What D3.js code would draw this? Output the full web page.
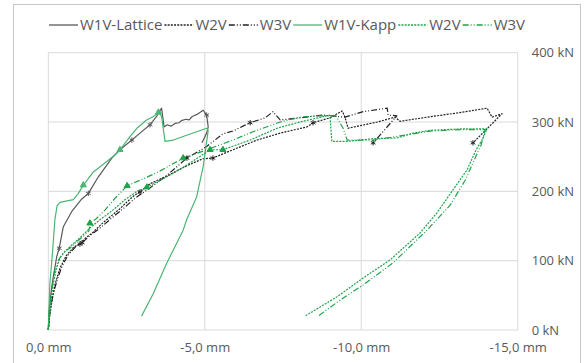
<!DOCTYPE html>
<html><head><meta charset="utf-8">
<script src="https://cdn.jsdelivr.net/npm/d3@7"></script>
<style>
body{margin:0;background:#fff;}
svg{display:block;font-family:"Open Sans",sans-serif;}
</style></head>
<body><svg id="c" width="585" height="363"></svg>
<script>
// ---- data (x: displacement in mm, y: force in kN) ----
const xTicks = [0, -5, -10, -15];
const yTicks = [0, 100, 200, 300, 400];
const seriesNames = ["W1V-Lattice", "W2V", "W3V", "W1V-Kapp", "W2V", "W3V"];

const w1vLattice = [[0,0],[-0.03,29],[-0.10,58],[-0.16,77],[-0.27,106],[-0.35,118],[-0.48,149],[-0.75,171],[-1.07,189],[-1.28,197],[-1.60,221],[-2.03,248],[-2.29,260],[-2.67,274],[-2.93,284],[-3.25,296],[-3.46,308],[-3.62,320],[-3.70,293],[-3.80,296],[-3.92,294],[-4.05,298],[-4.18,299],[-4.25,302],[-4.40,304],[-4.50,303],[-4.60,308],[-4.75,311],[-4.95,317],[-5.06,310],[-5.11,293],[-5.06,284],[-4.91,270]];
const w2vLattice = [[0,0],[-0.05,22],[-0.12,43],[-0.21,65],[-0.37,89],[-0.57,107],[-0.82,120],[-1.01,124],[-1.20,133],[-1.43,141],[-1.68,152],[-1.97,163],[-2.29,175],[-2.52,185],[-2.77,195],[-2.93,199],[-3.25,211],[-3.79,222],[-4.43,237],[-4.94,247],[-5.26,248],[-5.90,260],[-6.67,274],[-7.41,284],[-8.27,293],[-8.46,299],[-9.00,306],[-9.39,316],[-9.48,307],[-9.58,291],[-10.51,300],[-11.08,307],[-11.24,301],[-12.10,307],[-13.06,313],[-14.02,320],[-14.18,307],[-14.50,312],[-13.57,270]];
const w3vLattice = [[0,0],[-0.05,26],[-0.15,51],[-0.28,72],[-0.44,92],[-0.63,108],[-0.89,121],[-1.08,126],[-1.33,136],[-1.65,147],[-2.04,162],[-2.42,176],[-2.77,190],[-3.25,205],[-3.76,222],[-4.43,248],[-5.07,265],[-5.58,283],[-5.90,287],[-6.45,299],[-6.93,306],[-7.18,315],[-7.41,303],[-8.04,306],[-8.78,310],[-9.48,307],[-10.06,315],[-10.83,320],[-10.86,310],[-11.14,309],[-10.38,270]];
const w1vKapp = [[0,0],[-0.05,67],[-0.14,115],[-0.21,159],[-0.28,179],[-0.37,184],[-0.80,188],[-0.96,197],[-1.12,209],[-1.44,228],[-1.87,243],[-2.19,255],[-2.29,260],[-2.61,279],[-2.83,291],[-3.14,303],[-3.36,308],[-3.52,314],[-3.62,308],[-3.73,272],[-4.00,274],[-4.42,281],[-4.74,286],[-5.06,291],[-5.11,288],[-4.95,236],[-4.74,192],[-4.42,159],[-4.31,144],[-3.78,96],[-3.36,53],[-2.98,20]];
const w2vKapp = [[0,0],[-0.04,22],[-0.09,43],[-0.15,65],[-0.25,87],[-0.37,104],[-0.57,115],[-0.76,123],[-1.01,133],[-1.33,147],[-1.65,159],[-2.04,172],[-2.45,188],[-2.80,199],[-3.15,206],[-3.79,221],[-4.43,238],[-5.17,260],[-5.58,260],[-6.45,274],[-7.31,291],[-8.04,300],[-9.00,310],[-9.06,272],[-9.54,272],[-10.38,276],[-11.14,277],[-11.66,284],[-12.20,288],[-13.16,290],[-14.02,290],[-13.86,274],[-13.67,260],[-13.38,231],[-12.93,202],[-12.42,169],[-11.88,140],[-10.92,101],[-10.06,75],[-9.23,48],[-8.20,20]];
const w3vKapp = [[0,0],[-0.02,22],[-0.07,43],[-0.13,65],[-0.21,87],[-0.34,102],[-0.50,113],[-0.69,118],[-0.92,128],[-1.14,136],[-1.30,143],[-1.33,154],[-1.52,160],[-1.81,173],[-2.13,190],[-2.52,208],[-2.93,216],[-3.47,227],[-4.31,248],[-5.07,260],[-5.90,274],[-6.54,286],[-7.41,300],[-8.04,307],[-8.68,309],[-9.19,309],[-9.42,291],[-9.55,274],[-10.38,274],[-11.24,280],[-12.20,287],[-13.16,289],[-13.96,289],[-13.83,267],[-13.61,245],[-13.32,216],[-12.84,180],[-12.10,144],[-11.02,97],[-10.06,65],[-9.32,43],[-8.62,20]];

// cycle markers along the curves
const w1vLatticeMarks = [[-0.35,118],[-1.28,197],[-2.67,274],[-3.25,296],[-5.06,310]];
const w2vLatticeMarks = [[-1.01,124],[-2.93,199],[-5.26,248],[-8.46,299],[-13.57,270]];
const w3vLatticeMarks = [[-1.08,126],[-4.43,248],[-6.45,299],[-10.38,270]];
const w1vKappMarks = [[-1.12,209],[-2.29,260],[-3.52,314]];
const w2vKappMarks = [[-3.15,206],[-5.17,260],[-5.58,260]];
const w3vKappMarks = [[-1.33,154],[-2.52,208],[-4.31,248]];

// ---- drawing ----
const svg = d3.select("#c");
const X0 = 48.3, X1 = 517.7, Y0 = 330, Y1 = 52.7;
const x = d3.scaleLinear().domain([0, -15]).range([X0, X1]);
const y = d3.scaleLinear().domain([0, 400]).range([Y0, Y1]);
const txt = "#595959";

svg.append("rect").attr("x", 13.5).attr("y", 4.5).attr("width", 567).attr("height", 362)
  .attr("fill", "#fff").attr("stroke", "#c6c6c6").attr("stroke-width", 1);

// grid
const g = svg.append("g");
g.selectAll(".vg").data(xTicks).join("line")
  .attr("x1", d => x(d)).attr("x2", d => x(d)).attr("y1", Y0).attr("y2", Y1)
  .attr("stroke", "#d9d9d9").attr("stroke-width", 1);
g.selectAll(".hg").data(yTicks).join("line")
  .attr("x1", X0).attr("x2", X1).attr("y1", d => y(d)).attr("y2", d => y(d))
  .attr("stroke", "#d9d9d9").attr("stroke-width", 1);

// axes
const fmtX = d => (d < 0 ? "-" : "") + Math.abs(d).toFixed(1).replace(".", ",") + " mm";
const xa = svg.append("g").attr("transform", `translate(0,${Y0})`)
  .call(d3.axisBottom(x).tickValues(xTicks).tickSize(0).tickPadding(13).tickFormat(fmtX));
xa.select(".domain").remove();
xa.selectAll("text").attr("fill", txt).style("font-size", "13px").style("font-family", "'Open Sans',sans-serif");

const ya = svg.append("g").attr("transform", `translate(${X1},0)`)
  .call(d3.axisRight(y).tickValues(yTicks).tickSize(0).tickPadding(14).tickFormat(d => d + " kN"));
ya.select(".domain").remove();
ya.selectAll("text").attr("fill", txt).style("font-size", "13px").style("font-family", "'Open Sans',sans-serif");

// series
const styles = [
  {data: w1vLattice, marks: w1vLatticeMarks, color: "#5a5a5a", dash: null, sym: "ast"},
  {data: w2vLattice, marks: w2vLatticeMarks, color: "#222", dash: "2,1.2", sym: "ast"},
  {data: w3vLattice, marks: w3vLatticeMarks, color: "#222", dash: "6,2,1,2,1,2", sym: "ast"},
  {data: w1vKapp, marks: w1vKappMarks, color: "#4cb573", dash: null, sym: "tri"},
  {data: w2vKapp, marks: w2vKappMarks, color: "#1ea24a", dash: "2,1.2", sym: "tri"},
  {data: w3vKapp, marks: w3vKappMarks, color: "#1ea24a", dash: "6,2,1,2,1,2", sym: "tri"}
];
const line = d3.line().x(d => x(d[0])).y(d => y(d[1]));
const symAst = d3.symbolAsterisk || d3.symbolCross;
const plot = svg.append("g");
styles.forEach(s => {
  plot.append("path").attr("d", line(s.data)).attr("fill", "none")
    .attr("stroke", s.color).attr("stroke-width", 1.2)
    .attr("stroke-dasharray", s.dash).attr("stroke-linejoin", "round");
});
styles.forEach(s => {
  const sym = s.sym === "tri" ? d3.symbol(d3.symbolTriangle, 16) : d3.symbol(symAst, 20);
  plot.selectAll(null).data(s.marks).join("path")
    .attr("transform", d => `translate(${x(d[0])},${y(d[1])})`)
    .attr("d", sym)
    .attr("fill", s.sym === "tri" ? s.color : "none")
    .attr("stroke", s.color).attr("stroke-width", 1);
});

// legend
const leg = svg.append("g");
const lineLen = 29, gap1 = 2, gap2 = 2, ly = 25;
let cx = 0;
seriesNames.forEach((n, i) => {
  const it = leg.append("g");
  it.append("line").attr("x1", cx).attr("x2", cx + lineLen).attr("y1", ly).attr("y2", ly)
    .attr("stroke", styles[i].color).attr("stroke-width", 1.3).attr("stroke-dasharray", styles[i].dash);
  const t = it.append("text").attr("x", cx + lineLen + gap1).attr("y", ly).attr("dy", "0.35em")
    .attr("fill", txt).style("font-size", "15px").text(n);
  cx += lineLen + gap1 + t.node().getComputedTextLength() + gap2;
});
const total = cx - gap2;
leg.attr("transform", `translate(${287 - total / 2},0)`);
</script></body></html>
